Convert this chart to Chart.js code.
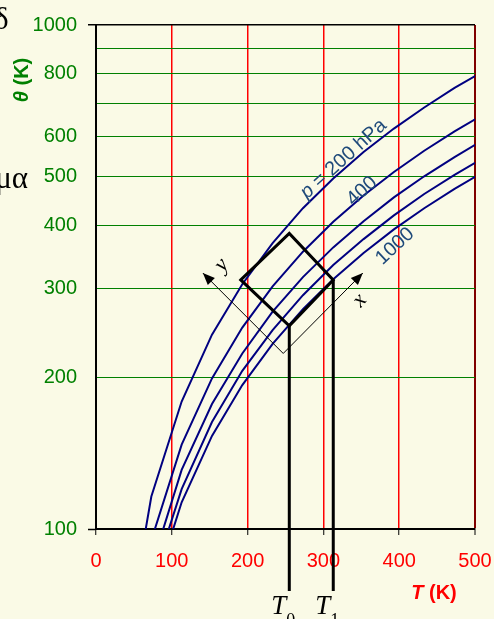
<!DOCTYPE html>
<html>
<head>
<meta charset="utf-8">
<script src="https://cdn.jsdelivr.net/npm/chart.js@4/dist/chart.umd.min.js"></script>
<style>
  html, body { margin: 0; padding: 0; background: #fafae6; overflow: hidden; }
  #wrap { width: 494px; height: 619px; position: relative; }
</style>
</head>
<body>
<div id="wrap"><canvas id="c" width="494" height="619"></canvas></div>
<script>
// ---- data ----
const tK = [33, 73, 113, 153, 193, 233, 273, 313, 353, 393, 433, 473, 513];
const theta200  = [52, 116, 179, 243, 306, 369, 433, 496, 560, 623, 686, 750, 813];
const theta400  = [43, 95, 147, 199, 251, 303, 355, 407, 459, 511, 563, 615, 667];
const theta600  = [38, 84, 131, 177, 223, 270, 316, 362, 408, 455, 501, 547, 594];
const theta800  = [35, 78, 120, 163, 206, 248, 291, 334, 376, 419, 462, 504, 547];
const theta1000 = [33, 73, 113, 153, 193, 233, 273, 313, 353, 393, 433, 473, 513];
const xTicks = [0, 100, 200, 300, 400, 500];
const yGrid = [100, 200, 300, 400, 500, 600, 700, 800, 900, 1000];
const yTickLabels = [100, 200, 300, 400, 500, 600, 800, 1000];

const GREEN = '#008000', RED = '#ff0000', NAVY = '#000080', LABEL = '#1f4a7a';
const toPts = arr => tK.map((t, i) => ({ x: t, y: arr[i] }));
const series = [theta200, theta400, theta600, theta800, theta1000];

const bgPlugin = {
  id: 'bg',
  beforeDraw(chart) {
    const c = chart.ctx;
    c.save();
    c.fillStyle = '#fafae6';
    c.fillRect(0, 0, chart.width, chart.height);
    c.restore();
  }
};

function richText(c, parts, x, y, align) {
  let w = 0;
  parts.forEach(p => { c.font = p.font; p.w = c.measureText(p.t).width; w += p.w; });
  let sx = align === 'center' ? x - w / 2 : (align === 'right' ? x - w : x);
  parts.forEach(p => { c.font = p.font; c.fillText(p.t, sx, y); sx += p.w; });
}

const overlay = {
  id: 'overlay',
  afterDraw(chart) {
    const c = chart.ctx, xs = chart.scales.x, ys = chart.scales.y, ca = chart.chartArea;
    const P = (t, th) => [xs.getPixelForValue(t), ys.getPixelForValue(th)];
    c.save();

    // axis titles
    c.fillStyle = GREEN;
    c.textBaseline = 'middle';
    c.save();
    c.translate(22, 80);
    c.rotate(-Math.PI / 2);
    richText(c, [{ t: 'θ', font: 'italic bold 20px "Liberation Sans", Arial' },
                 { t: ' (K)', font: 'bold 20px "Liberation Sans", Arial' }], 0, 0, 'center');
    c.restore();
    c.fillStyle = RED;
    richText(c, [{ t: 'T', font: 'italic bold 20px "Liberation Sans", Arial' },
                 { t: ' (K)', font: 'bold 20px "Liberation Sans", Arial' }], 434, 593, 'center');

    // curve labels
    c.fillStyle = LABEL;
    const lab = (t, th, parts, ang) => {
      const [px, py] = P(t, th);
      c.save(); c.translate(px, py); c.rotate(ang * Math.PI / 180);
      c.textBaseline = 'middle';
      richText(c, parts, 0, 0, 'center');
      c.restore();
    };
    const f = '20px "Liberation Sans", Arial';
    lab(326.5, 542, [{ t: 'p', font: 'italic ' + f }, { t: ' = 200 hPa', font: f }], -42);
    lab(351, 468, [{ t: '400', font: f }], -43);
    lab(394.5, 364, [{ t: '1000', font: f }], -43);

    // rotated square
    c.strokeStyle = '#000';
    c.lineWidth = 3;
    c.lineJoin = 'miter';
    const sq = [P(191, 312), P(255, 386), P(313, 312), P(255, 253)];
    c.beginPath();
    sq.forEach((p, i) => i ? c.lineTo(p[0], p[1]) : c.moveTo(p[0], p[1]));
    c.closePath();
    c.stroke();

    // vertical lines T0, T1
    const b0 = P(255, 253), b1 = P(313, 312);
    const lowY = ca.bottom + 62;
    c.beginPath();
    c.moveTo(b0[0], b0[1]); c.lineTo(b0[0], lowY);
    c.moveTo(b1[0], b1[1]); c.lineTo(b1[0], lowY);
    c.stroke();

    // thin x / y arrows
    c.lineWidth = 1;
    c.fillStyle = '#000';
    const arrow = (a, b) => {
      c.beginPath(); c.moveTo(a[0], a[1]); c.lineTo(b[0], b[1]); c.stroke();
      const ang = Math.atan2(b[1] - a[1], b[0] - a[0]), L = 12, W = 5;
      const bx = b[0] - L * Math.cos(ang), by = b[1] - L * Math.sin(ang);
      c.beginPath();
      c.moveTo(b[0], b[1]);
      c.lineTo(bx + W * Math.sin(ang), by - W * Math.cos(ang));
      c.lineTo(bx - W * Math.sin(ang), by + W * Math.cos(ang));
      c.closePath(); c.fill();
    };
    const o = P(247, 223);
    arrow(o, P(352, 322));
    arrow(o, P(141, 322));

    const serifI = 'italic 22px "Liberation Serif", "DejaVu Serif", serif';
    const rotTxt = (t, th, s) => {
      const [px, py] = P(t, th);
      c.save(); c.translate(px, py); c.rotate(-50 * Math.PI / 180);
      c.font = serifI; c.textAlign = 'center'; c.textBaseline = 'middle';
      c.fillText(s, 0, 0); c.restore();
    };
    rotTxt(348, 284, 'x');
    rotTxt(166, 334, 'y');

    // T0, T1 labels
    c.textAlign = 'left';
    c.textBaseline = 'alphabetic';
    const tl = (px, sub) => {
      c.font = 'italic 27px "Liberation Serif", "DejaVu Serif", serif';
      c.fillText('T', px - 18, 614);
      c.font = '18px "Liberation Serif", "DejaVu Serif", serif';
      c.fillText(sub, px - 3, 626);
    };
    tl(b0[0], '0');
    tl(b1[0], '1');

    // cut-off text fragments at left
    c.font = '31px "Liberation Serif", "DejaVu Serif", serif';
    c.fillText('δ', -6, 29);
    c.textAlign = 'right';
    c.fillText('μα', 28, 188);

    c.restore();
  }
};

new Chart(document.getElementById('c'), {
  type: 'line',
  data: {
    datasets: series.map(arr => ({
      data: toPts(arr),
      borderColor: NAVY,
      borderWidth: 2,
      pointRadius: 0,
      fill: false,
      tension: 0
    }))
  },
  options: {
    responsive: false,
    animation: false,
    events: [],
    layout: { padding: { top: 25, right: 19, bottom: 0, left: 0 } },
    plugins: { legend: { display: false }, tooltip: { enabled: false } },
    scales: {
      x: {
        type: 'linear', min: 0, max: 500,
        afterFit: s => { s.height = 90; s.paddingLeft = 0; s.paddingRight = 0; },
        afterBuildTicks: s => { s.ticks = xTicks.map(v => ({ value: v })); },
        grid: {
          color: ctx => ctx.tick && ctx.tick.value === 0 ? '#000' : (ctx.tick && ctx.tick.value === 500 ? '#800000' : RED),
          lineWidth: ctx => ctx.tick && ctx.tick.value === 500 ? 2 : 1.5,
          tickColor: '#000', tickLength: 6, tickWidth: 1
        },
        border: { color: '#000', width: 2 },
        ticks: {
          color: RED, padding: 14, autoSkip: false, maxRotation: 0,
          font: { family: '"Liberation Sans", Arial', size: 20 },
          callback: v => String(v)
        }
      },
      y: {
        type: 'logarithmic', min: 100, max: 1000,
        afterFit: s => { s.width = 96; s.paddingTop = 0; s.paddingBottom = 0; },
        afterBuildTicks: s => { s.ticks = yGrid.map(v => ({ value: v })); },
        grid: {
          color: ctx => ctx.tick && ctx.tick.value === 1000 ? '#000' : GREEN,
          lineWidth: ctx => ctx.tick && ctx.tick.value === 1000 ? 1.5 : 1,
          tickColor: ctx => ctx.tick && (ctx.tick.value === 100 || ctx.tick.value === 1000) ? '#000' : 'rgba(0,0,0,0)',
          tickLength: 8, tickWidth: 1.5
        },
        border: { color: '#000', width: 2 },
        ticks: {
          color: GREEN, padding: 11, autoSkip: false,
          font: { family: '"Liberation Sans", Arial', size: 20 },
          callback: v => yTickLabels.includes(v) ? String(v) : ''
        }
      }
    }
  },
  plugins: [bgPlugin, overlay]
});
</script>
</body>
</html>
